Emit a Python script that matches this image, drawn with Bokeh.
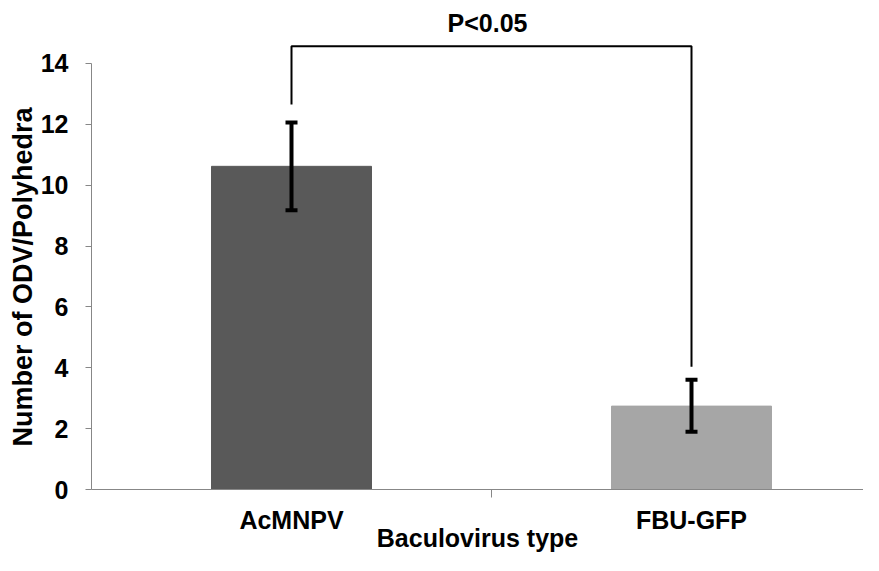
from bokeh.plotting import figure
from bokeh.models import ColumnDataSource, Range1d, FixedTicker, Whisker, TeeHead, Title
from bokeh.embed import file_html
from bokeh.resources import INLINE
from bokeh.core.properties import value

categories = ["AcMNPV", "FBU-GFP"]
means = [10.62, 2.74]
err_low = [9.18, 1.90]
err_high = [12.06, 3.61]
bar_colors = ["#595959", "#a6a6a6"]
y_ticks = [0, 2, 4, 6, 8, 10, 12, 14]
bracket_left_y = 12.65
bracket_right_y = 4.03
bracket_top = 14.57
sig_label = "P<0.05"
x_title = "Baculovirus type"
y_title = "Number of ODV/Polyhedra"

xpos = [i + 0.5 for i in range(len(categories))]
src = ColumnDataSource(dict(x=xpos, top=means, lo=err_low, hi=err_high, color=bar_colors))

FONT = "Liberation Sans"

p = figure(width=863, height=555, x_range=Range1d(0, 1.93), y_range=Range1d(0, 15.84),
           output_backend="svg", toolbar_location=None,
           min_border_left=91, min_border_right=0, min_border_top=7, min_border_bottom=66)
p.outline_line_color = None
p.xgrid.visible = False
p.ygrid.visible = False
p.background_fill_color = "white"
p.border_fill_color = "white"

p.vbar(x="x", top="top", width=0.4, bottom=0, source=src, fill_color="color", line_color="color")

w = Whisker(base="x", lower="lo", upper="hi", source=src, line_color="black", line_width=4,
            level="overlay",
            upper_head=TeeHead(size=12, line_width=4, line_color="black"),
            lower_head=TeeHead(size=12, line_width=4, line_color="black"))
p.add_layout(w)

p.line(x=[xpos[0], xpos[0], xpos[1], xpos[1]],
       y=[bracket_left_y, bracket_top, bracket_top, bracket_right_y],
       line_color="black", line_width=2)

p.text(x=[0.99], y=[15.33], text=[sig_label], text_font=value(FONT), text_font_style="bold",
       text_font_size="25px", text_align="center", text_baseline="alphabetic", text_color="black")

# x axis
xa = p.xaxis[0]
xa.ticker = FixedTicker(ticks=xpos, minor_ticks=[1.0])
xa.major_label_overrides = {xpos[i]: c for i, c in enumerate(categories)}
xa.major_tick_out = 0
xa.major_tick_in = 0
xa.minor_tick_out = 8
xa.minor_tick_in = 0
xa.axis_line_color = "#878787"
xa.minor_tick_line_color = "#878787"
xa.major_label_text_font = FONT
xa.major_label_text_font_style = "bold"
xa.major_label_text_font_size = "25px"
xa.major_label_text_color = "black"
xa.major_label_standoff = 8
xa.axis_label = x_title
xa.axis_label_text_font = FONT
xa.axis_label_text_font_style = "bold"
xa.axis_label_text_font_size = "25px"
xa.axis_label_text_color = "black"
xa.axis_label_standoff = -13

# y axis
ya = p.yaxis[0]
ya.ticker = FixedTicker(ticks=y_ticks)
ya.bounds = (y_ticks[0], y_ticks[-1])
ya.major_tick_out = 6
ya.major_tick_in = 0
ya.minor_tick_out = 0
ya.minor_tick_in = 0
ya.axis_line_color = "#878787"
ya.major_tick_line_color = "#878787"
ya.major_label_text_font = FONT
ya.major_label_text_font_style = "bold"
ya.major_label_text_font_size = "25px"
ya.major_label_text_color = "black"
ya.major_label_standoff = 17

# y axis title, positioned along the side panel
p.add_layout(Title(text=y_title, align="left", offset=43, standoff=0, text_font=FONT,
                   text_font_style="bold", text_font_size="27px", text_color="black"), "left")

open("out.html", "w").write(file_html(p, INLINE))
